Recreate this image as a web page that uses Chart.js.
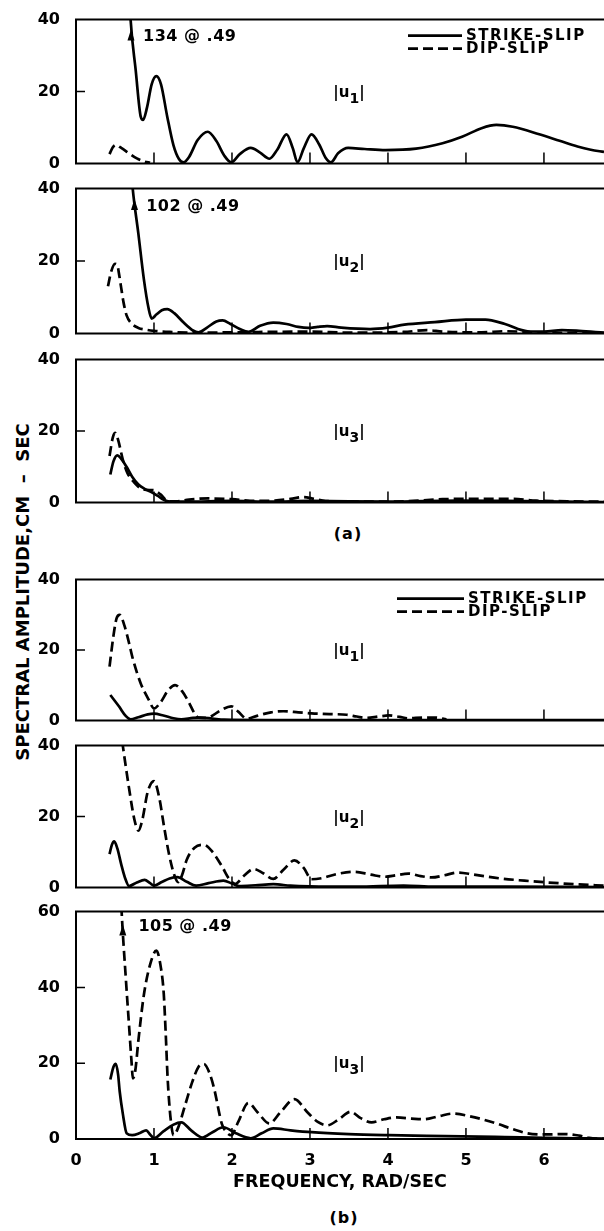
<!DOCTYPE html>
<html><head><meta charset="utf-8">
<script src="https://cdn.jsdelivr.net/npm/chart.js@4"></script>
<style>
html,body{margin:0;padding:0;background:#fff;width:604px;height:1231px;overflow:hidden;position:relative;}
.pane{position:absolute;left:0;width:604px;}
.txt{position:absolute;font-family:"DejaVu Sans";font-weight:bold;color:#000;white-space:pre;}
</style></head><body>
<div class="txt" id="ytitle" style="left:22px;top:592px;font-size:18px;transform:translate(-50%,-50%) rotate(-90deg);">SPECTRAL AMPLITUDE,CM  –  SEC</div>
<div class="txt" style="left:348px;top:533px;font-size:16px;transform:translate(-50%,-50%);letter-spacing:1px;">(a)</div>
<div class="txt" style="left:344px;top:1217px;font-size:16px;transform:translate(-50%,-50%);letter-spacing:1px;">(b)</div>
<script>
// ---- data: frequency (rad/sec), spectral amplitude (cm-sec) ----
const xTickValues = [0,1,2,3,4,5,6];
const yTicks40 = [0,20,40];
const yTicks60 = [0,20,40,60];
const seriesNames = ['STRIKE-SLIP','DIP-SLIP'];

// (a) |u1|
const aU1Strike = [[0.49,134],[0.70,40],[0.765,26],[0.83,13],[0.86,12.1],[0.91,15.5],[0.97,22],[1.03,24.3],[1.09,22],[1.17,13],[1.25,5],[1.32,1.2],[1.38,0.3],[1.45,1.8],[1.56,6.5],[1.69,8.8],[1.80,6.2],[1.90,2.2],[1.99,0.3],[2.10,2.6],[2.24,4.3],[2.36,3],[2.48,1.3],[2.58,3.8],[2.70,8.1],[2.78,4.2],[2.84,0.3],[2.92,4.2],[3.02,8.1],[3.12,5.2],[3.20,1.6],[3.27,0.3],[3.36,2.8],[3.49,4.3],[3.70,4.0],[3.97,3.7],[4.36,4.1],[4.70,5.6],[4.95,7.4],[5.20,9.8],[5.39,10.7],[5.60,10.2],[5.94,8.1],[6.20,6.3],[6.43,4.7],[6.60,3.8],[6.77,3.2]];
const aU1Dip = [[0.43,2.6],[0.47,4.4],[0.51,5.1],[0.58,4.3],[0.68,2.8],[0.78,1.4],[0.88,0.5],[0.95,0.2]];
// (a) |u2|
const aU2Strike = [[0.49,102],[0.727,40],[0.80,27.5],[0.87,15],[0.93,7],[0.97,4.1],[1.03,5.2],[1.10,6.4],[1.17,6.7],[1.26,5.6],[1.38,3],[1.50,0.8],[1.57,0.3],[1.68,1.6],[1.80,3.3],[1.88,3.6],[1.98,2.6],[2.10,1.2],[2.21,0.4],[2.36,2.1],[2.53,3.0],[2.70,2.6],[2.85,1.8],[2.98,1.5],[3.10,1.8],[3.22,2.0],[3.40,1.6],[3.77,1.2],[4.0,1.6],[4.21,2.4],[4.6,3.1],[5.0,3.8],[5.25,3.8],[5.50,2.6],[5.79,0.6],[6.0,0.5],[6.23,0.9],[6.45,0.7],[6.77,0.2]];
const aU2Dip = [[0.41,13],[0.45,17],[0.50,19.2],[0.53,18.8],[0.555,16],[0.58,12.5],[0.61,8.5],[0.65,4.9],[0.72,2.6],[0.80,1.5],[0.90,1.0],[1.0,0.7],[1.2,0.4],[1.6,0.2],[2.0,0.3],[3.0,0.5],[3.5,0.2],[4.2,0.4],[4.5,0.9],[4.7,0.5],[5.2,0.3],[5.5,0.6],[6.0,0.2],[6.77,0.1]];
// (a) |u3|
const aU3Strike = [[0.44,7.8],[0.48,11.5],[0.53,13.2],[0.58,12.2],[0.65,9.9],[0.72,7.2],[0.80,5],[0.88,3.8],[0.96,3.0],[1.05,1.8],[1.12,0.8],[1.18,0.3],[1.4,0.2],[2.0,0.4],[2.5,0.2],[3.0,0.4],[4.0,0.2],[4.9,0.5],[5.5,0.4],[6.0,0.3],[6.77,0.1]];
const aU3Dip = [[0.43,13],[0.47,18],[0.50,19.5],[0.54,17.5],[0.60,12],[0.66,8.2],[0.73,6.0],[0.81,4.2],[0.90,3.5],[1.0,3.4],[1.08,2.3],[1.19,0.3],[1.3,0.3],[1.45,0.8],[1.7,1.1],[2.0,0.9],[2.3,0.4],[2.55,0.5],[2.75,1.0],[2.92,1.5],[3.05,1.0],[3.2,0.4],[3.6,0.2],[4.2,0.3],[4.7,0.9],[5.2,1.0],[5.6,1.0],[5.9,0.5],[6.3,0.3],[6.77,0.2]];
// (b) |u1|
const bU1Strike = [[0.44,7.2],[0.55,4],[0.64,1.2],[0.70,0.3],[0.80,0.9],[0.92,1.7],[1.0,1.9],[1.12,1.4],[1.25,0.6],[1.35,0.3],[1.5,0.7],[1.6,0.8],[1.75,0.5],[1.9,0.2],[2.5,0.1],[6.77,0.05]];
const bU1Dip = [[0.43,15.3],[0.48,24],[0.52,29],[0.56,30],[0.62,27],[0.68,22],[0.73,17.4],[0.83,10.5],[0.93,6],[1.0,3.4],[1.08,5],[1.18,8.5],[1.27,10],[1.36,8.3],[1.45,5],[1.52,2],[1.57,0.8],[1.65,0.7],[1.72,1],[1.85,2.8],[1.99,4],[2.08,2.5],[2.19,0.5],[2.32,1.3],[2.50,2.3],[2.66,2.6],[2.85,2.3],[3.02,2.0],[3.25,1.8],[3.47,1.6],[3.60,1.1],[3.72,0.7],[3.88,1.1],[4.01,1.4],[4.15,1.0],[4.26,0.6],[4.45,0.8],[4.60,0.8],[4.75,0.3]];
// (b) |u2|
const bU2Strike = [[0.43,9.4],[0.46,12],[0.49,13],[0.53,11],[0.58,6.5],[0.63,2.6],[0.68,0.4],[0.78,1.4],[0.88,2.1],[0.95,1.2],[1.0,0.5],[1.10,1.5],[1.20,2.5],[1.30,2.9],[1.42,1.6],[1.54,0.5],[1.70,1.2],[1.89,1.9],[2.0,1.1],[2.09,0.4],[2.30,0.6],[2.53,0.9],[2.75,0.5],[3.0,0.3],[3.6,0.2],[4.2,0.5],[4.6,0.2],[5.5,0.2],[6.77,0.1]];
const bU2Dip = [[0.49,58],[0.60,40],[0.68,28],[0.75,19],[0.80,16],[0.85,19],[0.92,27],[1.0,30],[1.07,25],[1.13,17],[1.20,8.6],[1.27,2.9],[1.31,1.5],[1.36,3.5],[1.42,7.8],[1.52,11.2],[1.64,12],[1.75,10],[1.87,6],[1.96,2.5],[2.04,1.0],[2.15,3.2],[2.28,5.2],[2.40,4],[2.53,2.4],[2.66,5],[2.80,7.6],[2.92,5.5],[3.02,2.3],[3.15,2.6],[3.35,3.8],[3.57,4.4],[3.78,3.6],[3.96,3.0],[4.10,3.4],[4.26,3.9],[4.42,3.2],[4.56,2.8],[4.72,3.4],[4.90,4.2],[5.10,3.6],[5.45,2.5],[5.75,1.9],[6.04,1.4],[6.40,0.9],[6.77,0.5]];
// (b) |u3|
const bU3Strike = [[0.44,15.7],[0.48,19],[0.51,19.8],[0.54,17],[0.56,12.6],[0.60,6.7],[0.65,1.5],[0.72,1.0],[0.82,1.6],[0.90,2.3],[0.95,1.2],[1.0,0.2],[1.12,2],[1.25,3.8],[1.35,4.4],[1.48,2.2],[1.62,0.4],[1.75,1.8],[1.89,3.1],[2.05,1.5],[2.24,0.2],[2.38,1.5],[2.53,2.8],[2.75,2.3],[3.02,1.8],[3.5,1.3],[4.01,1.0],[4.5,0.8],[4.95,0.7],[5.5,0.5],[6.0,0.3],[6.4,0.2],[6.77,0.1]];
const bU3Dip = [[0.49,105],[0.585,60],[0.64,42],[0.68,30],[0.71,21],[0.73,16],[0.76,18],[0.80,26],[0.87,38],[0.95,46],[1.03,49.7],[1.09,45],[1.125,38.4],[1.15,28],[1.175,16],[1.21,6],[1.25,1],[1.31,3],[1.40,9],[1.49,15],[1.57,19],[1.64,19.8],[1.71,17.5],[1.77,13.4],[1.87,4],[1.93,1.8],[1.99,1],[2.08,4.5],[2.21,9.5],[2.33,7],[2.48,4.1],[2.62,7],[2.80,10.5],[2.97,7],[3.10,4.5],[3.22,3.6],[3.37,5.2],[3.52,7.2],[3.65,5.5],[3.79,4.4],[3.95,5.2],[4.11,5.7],[4.30,5.4],[4.46,5.2],[4.65,6.0],[4.83,6.7],[5.05,6.0],[5.39,4.1],[5.60,2.6],[5.79,1.5],[6.0,1.2],[6.28,1.3],[6.45,0.9],[6.58,0.3],[6.77,0.05]];

const X_MAX = 6.77;
const FONT = 'DejaVu Sans';
const INK = '#000';

const decorPlugin = {
  id: 'decor',
  afterDatasetsDraw(chart, args, o) {
    const {ctx, chartArea: a, scales: {x, y}} = chart;
    ctx.save();
    ctx.strokeStyle = INK; ctx.fillStyle = INK; ctx.lineCap = 'butt';
    ctx.lineWidth = 2;
    ctx.beginPath();
    ctx.moveTo(a.right + 4, a.top); ctx.lineTo(a.left, a.top);
    ctx.lineTo(a.left, a.bottom); ctx.lineTo(a.right + 4, a.bottom);
    ctx.stroke();
    // inward ticks
    ctx.lineWidth = 1.5;
    ctx.beginPath();
    xTickValues.slice(1).forEach(v => {
      const px = x.getPixelForValue(v);
      ctx.moveTo(px, a.bottom); ctx.lineTo(px, a.bottom - 11);
    });
    o.yInner.forEach(v => {
      const py = y.getPixelForValue(v);
      ctx.moveTo(a.left, py); ctx.lineTo(a.left + 9, py);
    });
    ctx.stroke();
    // |u_n| label
    const lx = x.getPixelForValue(3.3), ly = y.getPixelForValue(20);
    ctx.font = `bold 15px "${FONT}"`;
    ctx.textBaseline = 'alphabetic'; ctx.textAlign = 'left';
    let w = ctx.measureText('|u').width;
    ctx.fillText('|u', lx, ly + 5);
    ctx.font = `bold 14px "${FONT}"`;
    ctx.fillText(o.sub, lx + w, ly + 11);
    const w2 = ctx.measureText(o.sub).width;
    ctx.font = `bold 15px "${FONT}"`;
    ctx.fillText('|', lx + w + w2, ly + 5);
    // legend
    if (o.legend) {
      ctx.font = `bold 15px "${FONT}"`;
      ctx.letterSpacing = '1.5px';
      ctx.textBaseline = 'middle';
      ctx.lineWidth = 2.6;
      chart.data.datasets.forEach((ds, i) => {
        const yy = a.top + o.legend.dy + i * 13;
        ctx.setLineDash(ds.borderDash || []);
        ctx.beginPath(); ctx.moveTo(o.legend.x0, yy); ctx.lineTo(o.legend.x1, yy); ctx.stroke();
        ctx.setLineDash([]);
        ctx.fillText(ds.label, o.legend.x1 + 4, yy + 1);
      });
      ctx.letterSpacing = '0px';
    }
    // off-scale peak annotation
    if (o.annot) {
      const t = o.annot;
      ctx.font = `bold 16px "${FONT}"`;
      ctx.letterSpacing = '0.5px';
      ctx.textBaseline = 'middle'; ctx.textAlign = 'left';
      ctx.fillText(t.text, x.getPixelForValue(t.tx), y.getPixelForValue(t.ty));
      ctx.letterSpacing = '0px';
      const ax = x.getPixelForValue(t.ax), ay = y.getPixelForValue(t.ay);
      ctx.beginPath();
      ctx.moveTo(ax, ay - 6); ctx.lineTo(ax - 3.5, ay + 5); ctx.lineTo(ax + 3.5, ay + 5); ctx.closePath();
      ctx.fill();
    }
    ctx.restore();
  }
};

const PAD = 12;
const X_AXIS_H = 54;

function panel(top, bottom, yMax, yTicks, strike, dip, deco, isBottom) {
  const wrap = document.createElement('div');
  wrap.className = 'pane';
  wrap.style.top = (top - PAD) + 'px';
  wrap.style.height = ((bottom - top) + PAD + (isBottom ? X_AXIS_H : PAD)) + 'px';
  const cv = document.createElement('canvas');
  wrap.appendChild(cv);
  document.body.appendChild(wrap);
  const tickFont = {family: FONT, weight: 'bold', size: 16};
  const line = (label, pts, dash) => ({
    label, data: pts.map(([fx, amp]) => ({x: fx, y: amp})),
    borderColor: INK, borderWidth: 2.7, borderDash: dash, pointRadius: 0,
    cubicInterpolationMode: 'monotone', fill: false
  });
  new Chart(cv, {
    type: 'line',
    data: {datasets: [line(seriesNames[0], strike, []), line(seriesNames[1], dip, [10, 5])]},
    options: {
      responsive: true, maintainAspectRatio: false, animation: false, devicePixelRatio: 1,
      events: [],
      layout: {padding: {top: PAD, bottom: isBottom ? 0 : PAD, left: 0, right: 0}},
      plugins: {legend: {display: false}, tooltip: {enabled: false}, decor: deco},
      scales: {
        x: {
          type: 'linear', min: 0, max: X_MAX, display: isBottom,
          grid: {display: false}, border: {display: false},
          afterBuildTicks: s => { s.ticks = xTickValues.map(v => ({value: v})); },
          afterFit: s => { s.height = isBottom ? X_AXIS_H : 0; },
          ticks: {padding: 4, font: tickFont, color: INK, autoSkip: false, maxRotation: 0},
          title: {display: true, text: 'FREQUENCY, RAD/SEC', color: INK, padding: {top: 0, bottom: 0},
                  font: {family: FONT, weight: 'bold', size: 17.5}}
        },
        y: {
          type: 'linear', min: 0, max: yMax,
          grid: {display: false}, border: {display: false},
          afterBuildTicks: s => { s.ticks = yTicks.map(v => ({value: v})); },
          afterFit: s => { s.width = 76; },
          ticks: {padding: 8, font: tickFont, color: INK}
        }
      }
    },
    plugins: [decorPlugin]
  });
}

panel(14, 169, 40, yTicks40, aU1Strike, aU1Dip,
  {sub: '1', yInner: [20], legend: {x0: 408, x1: 462, dy: 16},
   annot: {text: '134 @ .49', tx: 0.86, ty: 35.1, ax: 0.705, ay: 35.6}}, false);
panel(183, 339, 40, yTicks40, aU2Strike, aU2Dip,
  {sub: '2', yInner: [20], annot: {text: '102 @ .49', tx: 0.90, ty: 34.9, ax: 0.75, ay: 35.5}}, false);
panel(354, 508, 40, yTicks40, aU3Strike, aU3Dip, {sub: '3', yInner: [20]}, false);
panel(574, 726, 40, yTicks40, bU1Strike, bU1Dip,
  {sub: '1', yInner: [20], legend: {x0: 397, x1: 464, dy: 19}}, false);
panel(740, 893, 40, yTicks40, bU2Strike, bU2Dip, {sub: '2', yInner: [20]}, false);
panel(906, 1139, 60, yTicks60, bU3Strike, bU3Dip,
  {sub: '3', yInner: [20, 40], annot: {text: '105 @ .49', tx: 0.80, ty: 56, ax: 0.60, ay: 55}}, true);
</script>
</body></html>
